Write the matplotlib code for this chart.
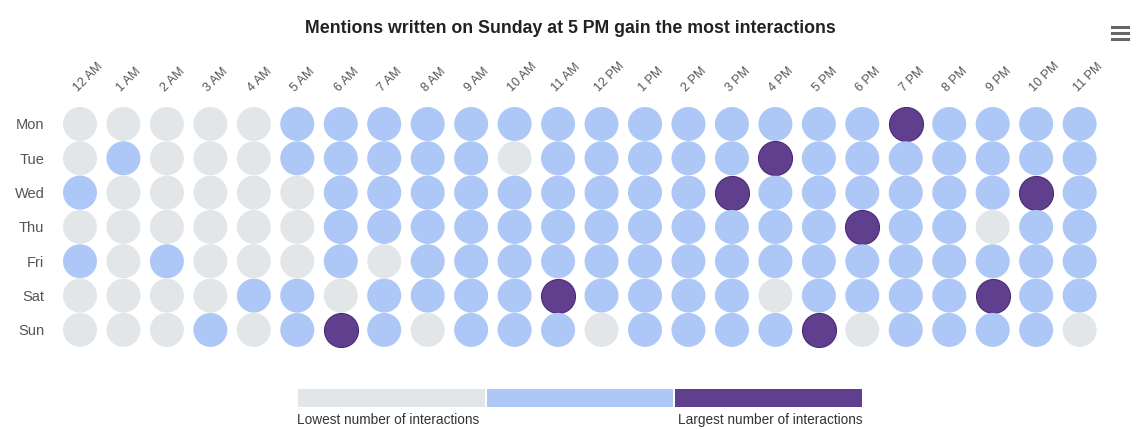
import matplotlib
matplotlib.use('Agg')
import matplotlib.pyplot as plt
from matplotlib.lines import Line2D

plt.rcParams['font.family'] = ['Liberation Sans', 'DejaVu Sans']

# Data: interaction level per hour (0 = lowest, 1 = medium, 2 = largest)
days = ["Mon", "Tue", "Wed", "Thu", "Fri", "Sat", "Sun"]
hours = ["12 AM", "1 AM", "2 AM", "3 AM", "4 AM", "5 AM", "6 AM", "7 AM",
         "8 AM", "9 AM", "10 AM", "11 AM", "12 PM", "1 PM", "2 PM", "3 PM",
         "4 PM", "5 PM", "6 PM", "7 PM", "8 PM", "9 PM", "10 PM", "11 PM"]

mon = [0, 0, 0, 0, 0, 1, 1, 1, 1, 1, 1, 1, 1, 1, 1, 1, 1, 1, 1, 2, 1, 1, 1, 1]
tue = [0, 1, 0, 0, 0, 1, 1, 1, 1, 1, 0, 1, 1, 1, 1, 1, 2, 1, 1, 1, 1, 1, 1, 1]
wed = [1, 0, 0, 0, 0, 0, 1, 1, 1, 1, 1, 1, 1, 1, 1, 2, 1, 1, 1, 1, 1, 1, 2, 1]
thu = [0, 0, 0, 0, 0, 0, 1, 1, 1, 1, 1, 1, 1, 1, 1, 1, 1, 1, 2, 1, 1, 0, 1, 1]
fri = [1, 0, 1, 0, 0, 0, 1, 0, 1, 1, 1, 1, 1, 1, 1, 1, 1, 1, 1, 1, 1, 1, 1, 1]
sat = [0, 0, 0, 0, 1, 1, 0, 1, 1, 1, 1, 2, 1, 1, 1, 1, 0, 1, 1, 1, 1, 2, 1, 1]
sun = [0, 0, 0, 1, 0, 1, 2, 1, 0, 1, 1, 1, 0, 1, 1, 1, 1, 2, 0, 1, 1, 1, 1, 0]
levels = [mon, tue, wed, thu, fri, sat, sun]

legend_labels = ["Lowest number of interactions", "Largest number of interactions"]
title = "Mentions written on Sunday at 5 PM gain the most interactions"

# colours for level 0, 1, 2
COLORS = ["#e3e6e9", "#adc8f6", "#613f8f"]
EDGES = ["none", "none", "#4b2a78"]
TEXT_GREY = "#555555"

fig = plt.figure(figsize=(11.4, 4.29), dpi=100)
ax = fig.add_axes([0.0511, 0.191, 0.915, 0.56])

for row, day_levels in enumerate(levels):
    for col, lvl in enumerate(day_levels):
        ax.scatter(col, row, s=600, color=COLORS[lvl], edgecolors=EDGES[lvl],
                   linewidths=0.8, zorder=2)

ax.set_xlim(-0.5, len(hours) - 0.5)
ax.set_ylim(len(days) - 0.5, -0.5)
ax.set_xticks(range(len(hours)))
ax.set_yticks(range(len(days)))
ax.xaxis.tick_top()
ax.set_xticklabels(hours, rotation=45, ha='left', va='bottom',
                   rotation_mode='anchor', fontsize=9, color=TEXT_GREY)
ax.set_yticklabels(days, fontsize=10.5, color=TEXT_GREY)
ax.tick_params(axis='x', length=0, pad=9)
ax.tick_params(axis='y', length=0, pad=10)
for spine in ax.spines.values():
    spine.set_visible(False)

fig.text(0.5, 0.933, title, ha='center', va='center', fontsize=12.8,
         fontweight='bold', color='#222222')

# hamburger menu icon
for yy in [27, 33, 39]:
    fig.add_artist(Line2D([1112 / 1140, 1128 / 1140], [1 - yy / 429, 1 - yy / 429],
                          color='#666666', linewidth=2.2, transform=fig.transFigure))

# legend bar
lax = fig.add_axes([297 / 1140, 22 / 429, 566 / 1140, 18 / 429])
lax.bar(range(3), [1, 1, 1], width=0.99, color=COLORS)
lax.set_xlim(-0.5, 2.5)
lax.set_ylim(0, 1)
lax.axis('off')

fig.text(297 / 1140, 1 - 420 / 429, legend_labels[0], ha='left', va='center',
         fontsize=9.8, color='#333333')
fig.text(863 / 1140, 1 - 420 / 429, legend_labels[1], ha='right', va='center',
         fontsize=9.8, color='#333333')

fig.savefig("out.png", dpi=100, facecolor='white')
